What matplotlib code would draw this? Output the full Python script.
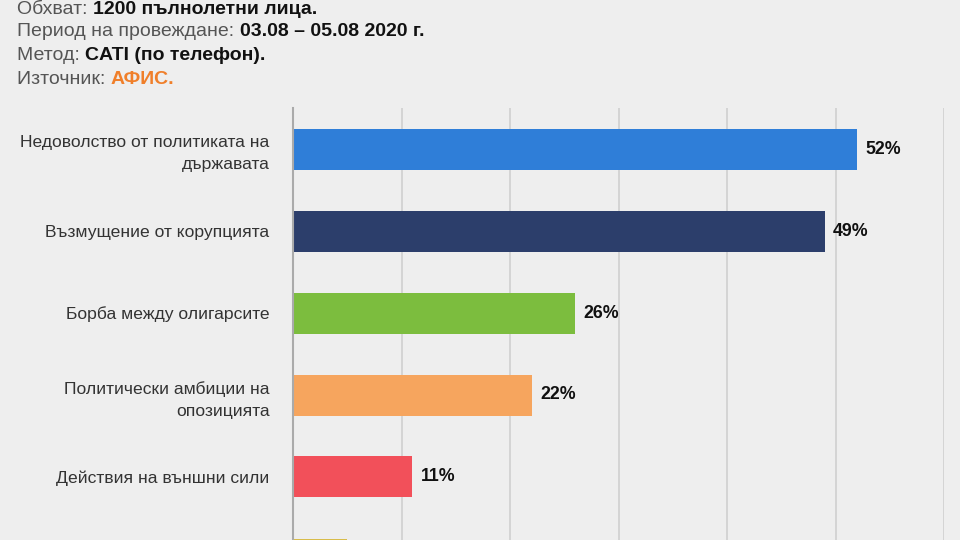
import matplotlib
matplotlib.use("Agg")
import matplotlib.pyplot as plt

categories = [
    "Недоволство от политиката на\nдържавата",
    "Възмущение от корупцията",
    "Борба между олигарсите",
    "Политически амбиции на\nопозицията",
    "Действия на външни сили",
    "Друго",
]
values = [52, 49, 26, 22, 11, 5]
colors = ["#2F7ED8", "#2C3E6B", "#7CBD3E", "#F6A55E", "#F2505A", "#D8BC4A"]
xticks = [0, 10, 20, 30, 40, 50, 60]

header = [
    ("Обхват: ", "1200 пълнолетни лица.", "#111111"),
    ("Период на провеждане: ", "03.08 – 05.08 2020 г.", "#111111"),
    ("Метод: ", "CATI (по телефон).", "#111111"),
    ("Източник: ", "АФИС.", "#F07F2A"),
]

plt.rcParams["font.family"] = ["Liberation Sans", "DejaVu Sans"]
bg = "#EEEEEE"
fig = plt.figure(figsize=(9.6, 5.4), dpi=100, facecolor=bg)

W, H = 960, 540
top_px, left_px, right_px = 108, 293, 944
band = 82
ax = fig.add_axes([left_px / W, 0, (right_px - left_px) / W, (H - top_px) / H])
ax.set_facecolor(bg)
nb = (H - top_px) / band
ypos = list(range(len(categories)))
ax.barh(ypos, values, height=41 / band, color=colors, zorder=3)
ax.set_xticks(xticks)
ax.set_yticks(ypos)
ax.set_yticklabels(categories, fontsize=12.6, color="#333333", ha="right",
                   multialignment="right", linespacing=1.55)
ax.set_xlim(0, 60)
ax.set_ylim(-0.5 + nb, -0.5)
ax.xaxis.grid(True, color="#CFCFCF", linewidth=1.2, zorder=0)
ax.tick_params(axis="x", length=0, labelbottom=False)
ax.tick_params(axis="y", length=0, pad=17)
for s in ["top", "right", "bottom"]:
    ax.spines[s].set_visible(False)
ax.spines["left"].set_color("#AAAAAA")
ax.spines["left"].set_linewidth(1.5)
ax.spines["left"].set_zorder(4)

for y, v in zip(ypos, values):
    ax.annotate(f"{v}%", (v, y), xytext=(6, 0), textcoords="offset points",
                va="center", ha="left", fontsize=12.8, fontweight="bold",
                color="#111111")

# header lines
ys = [9, 32, 56, 80]
for (lab, val, vc), y in zip(header, ys):
    t = fig.text(17 / W, 1 - y / H, lab, fontsize=14, color="#555555", va="center", ha="left")
    fig.canvas.draw()
    bb = t.get_window_extent()
    fig.text(bb.x1 / W, 1 - y / H, val, fontsize=14, color=vc, fontweight="bold",
             va="center", ha="left")

fig.savefig("out.png", dpi=100, facecolor=bg)
